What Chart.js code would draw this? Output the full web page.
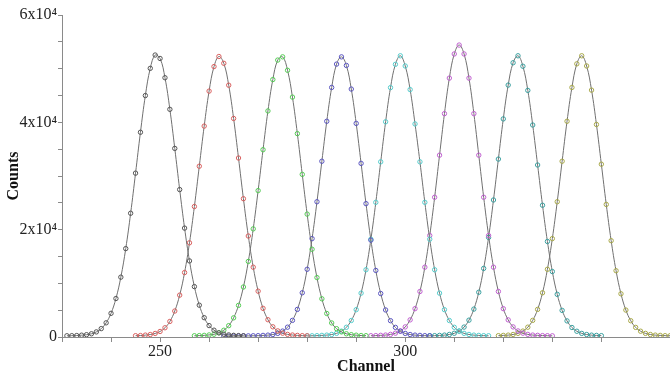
<!DOCTYPE html>
<html>
<head>
<meta charset="utf-8">
<script src="https://cdn.jsdelivr.net/npm/chart.js@4.4.1/dist/chart.umd.min.js"></script>
<style>
  html, body { margin: 0; padding: 0; background: #fff; }
  #wrap { width: 670px; height: 379px; }
</style>
</head>
<body>
<div id="wrap"><canvas id="peaks" width="670" height="379"></canvas></div>
<script>
// first channel of each measured peak (one point per channel after that)
const peakStart = [231, 245, 257, 263, 280, 293, 305, 319];

const peak1 = [230, 245, 270, 340, 430, 600, 950, 1560, 2640, 4410, 7170, 11150, 16470, 23060, 30530, 38150, 44990, 50060, 52540,
  51900, 48310, 42420, 35140, 27470, 20290, 14180, 9390, 5930, 3600, 2130, 1270, 780, 520, 390, 310, 260, 235];
const peak2 = [245, 270, 350, 460, 660, 1030, 1720, 2900, 4840, 7800, 12010, 17550, 24310, 31820, 39300, 45820, 50390, 52270,
  51000, 46920, 40720, 33350, 25770, 18820, 13010, 8540, 5340, 3220, 1900, 1140, 710, 490, 370, 300, 250, 230];
const peak3 = [235, 260, 305, 385, 515, 775, 1260, 2110, 3570, 5890, 9320, 14080, 20150, 27280, 34900, 42120, 47970, 51600,
  52200, 49700, 44700, 37900, 30300, 22900, 16350, 11070, 7120, 4380, 2620, 1550, 950, 600, 430, 340, 270, 245];
const peak4 = [140, 155, 165, 180, 195, 210, 230, 250, 300, 350, 470, 680, 1100, 1830, 3100, 5140, 8240, 12620, 18330, 25200,
  32750, 40200, 46500, 50850, 52200, 50600, 46200, 39800, 32350, 24850, 18050, 12400, 8100, 5040, 3040, 1790, 1080, 670, 460,
  350, 295, 250, 230];
const peak5 = [210, 230, 250, 300, 350, 470, 680, 1090, 1810, 3070, 5090, 8170, 12530, 18220, 25090, 32640, 40100, 46470, 50810,
  52400, 50500, 46100, 39700, 32640, 25090, 18220, 12530, 8170, 5090, 3070, 1810, 1090, 680, 470, 350, 300, 250, 230];
const peak6 = [240, 260, 310, 360, 490, 710, 1130, 1880, 3190, 5280, 8480, 13010, 18910, 26040, 33880, 41620, 48240, 52740,
  54400, 52740, 48240, 41620, 33880, 26040, 18910, 13010, 8480, 5280, 3190, 1880, 1130, 710, 490, 360, 310, 260, 240, 220];
const peak7 = [230, 250, 300, 350, 470, 690, 1110, 1850, 3140, 5200, 8340, 12780, 18560, 25530, 33150, 40640, 46940, 51100,
  52400, 50450, 45950, 39500, 32050, 24550, 17800, 12200, 7950, 4960, 3000, 1770, 1070, 670, 460, 345, 295, 250];
const peak8 = [250, 300, 350, 470, 680, 1100, 1830, 3100, 5140, 8240, 12620, 18330, 25200, 32750, 40200, 46500, 50900,
  52400, 50500, 46000, 39600, 32200, 24700, 17950, 12350, 8050, 5020, 3030, 1790, 1080, 675, 465, 350, 300, 250, 230];

const allPeaks = [peak1, peak2, peak3, peak4, peak5, peak6, peak7, peak8];
const pointColors = ['#555555', '#d9605f', '#55cc55', '#5a55c0', '#55cccc', '#c060d0', '#3aa0a0', '#a8a848'];

const yTickLabels = { 0: '0', 20000: '2x10\u2074', 40000: '4x10\u2074', 60000: '6x10\u2074' };
const xTickLabels = [250, 300, 350];

const datasets = allPeaks.map((counts, i) => ({
  label: 'peak ' + (i + 1),
  data: counts.map((c, j) => ({ x: peakStart[i] + j, y: c })),
  showLine: true,
  borderColor: '#707070',
  borderWidth: 1,
  tension: 0.4,
  pointRadius: 2.2,
  pointBorderWidth: 1,
  pointBorderColor: pointColors[i],
  pointBackgroundColor: 'rgba(255,255,255,0)'
}));

const serif = 'Liberation Serif, Times New Roman, serif';

new Chart(document.getElementById('peaks'), {
  type: 'scatter',
  data: { datasets },
  options: {
    responsive: false,
    animation: false,
    layout: { autoPadding: false, padding: { top: 15, right: 0, left: 0, bottom: 0 } },
    plugins: { legend: { display: false }, tooltip: { enabled: false } },
    scales: {
      x: {
        type: 'linear',
        min: 230,
        max: 354,
        afterFit: s => { s.height = 42; },
        border: { display: true, color: '#8a8a8a', width: 1 },
        grid: { drawOnChartArea: false, drawTicks: true, tickLength: 5, color: '#8a8a8a' },
        ticks: {
          stepSize: 10,
          autoSkip: false,
          maxRotation: 0,
          padding: 0,
          color: '#222',
          font: { family: serif, size: 16 },
          callback: v => xTickLabels.includes(v) ? String(v) : ''
        },
        title: {
          display: true,
          text: 'Channel',
          color: '#111',
          padding: { top: 0, bottom: 3 },
          font: { family: serif, size: 16, weight: 'bold' }
        }
      },
      y: {
        min: 0,
        max: 60000,
        afterFit: s => { s.width = 62; },
        border: { display: true, color: '#8a8a8a', width: 1 },
        grid: { drawOnChartArea: false, drawTicks: true, tickLength: 4, color: '#8a8a8a' },
        ticks: {
          stepSize: 5000,
          autoSkip: false,
          padding: 1,
          color: '#222',
          font: { family: serif, size: 16 },
          callback: v => yTickLabels[v] !== undefined ? yTickLabels[v] : ''
        },
        title: {
          display: true,
          text: 'Counts',
          color: '#111',
          padding: { top: 4, bottom: 0 },
          font: { family: serif, size: 16, weight: 'bold' }
        }
      }
    }
  }
});
</script>
</body>
</html>
